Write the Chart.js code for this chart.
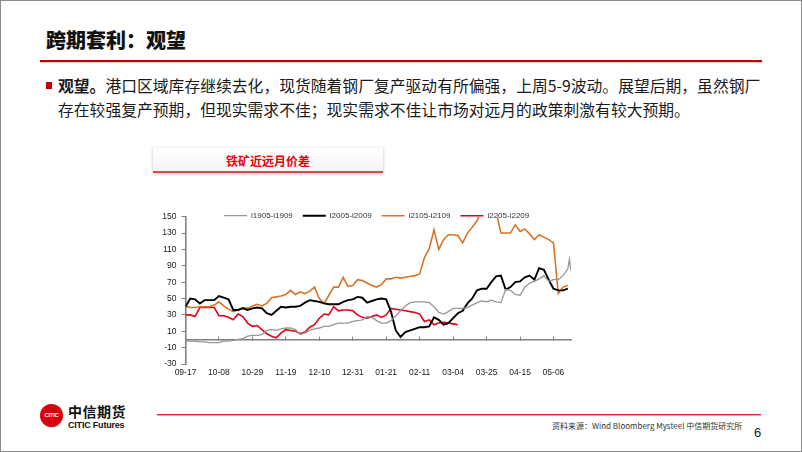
<!DOCTYPE html>
<html>
<head>
<meta charset="utf-8">
<script src="https://cdn.jsdelivr.net/npm/chart.js@4.4.1/dist/chart.umd.min.js"></script>
<style>
  html, body { margin: 0; padding: 0; background: #fff; }
  #slide { position: relative; width: 802px; height: 452px; overflow: hidden; font-family: 'Noto Sans CJK SC', sans-serif; color: #111; }
  #frame { position: absolute; left: 0; top: 0; right: 0; bottom: 0; border: 1px solid #8a8a8a; pointer-events: none; }
  .abs { position: absolute; white-space: nowrap; }
  #title { left: 46px; top: 26px; font-size: 20px; font-weight: 900; line-height: 28px; }
  #titleLine { left: 40px; top: 60px; width: 722px; height: 2px; background: #c00000; box-shadow: 0 1px 1px rgba(120,0,0,.25); }
  #bullet { left: 46px; top: 82px; width: 6px; height: 7px; background: #c00000; }
  #text { left: 58px; top: 74px; font-size: 15.8px; line-height: 24px; color: #1a1a1a; }
  #chartHead { left: 153px; top: 148px; width: 230px; height: 23px; background: linear-gradient(#ffffff, #f5f5f8); border-bottom: 2px solid #c9504c; box-shadow: 0 1px 3px rgba(0,0,0,.25); text-align: center; font-size: 12px; font-weight: bold; line-height: 25px; color: #e8000b; }
  #chartBox { left: 150px; top: 200px; width: 440px; height: 185px; }
  #logo { left: 40px; top: 404px; width: 23px; height: 23px; border-radius: 50%; background: #d7000f; color: #fff; font: bold 6px 'Liberation Sans Narrow', 'Liberation Sans', sans-serif; line-height: 23px; text-align: center; letter-spacing: -0.3px; }
  #cn { left: 68px; top: 402px; font-size: 14px; font-weight: bold; line-height: 18px; letter-spacing: 0.5px; }
  #en { left: 68px; top: 419px; font: bold 9px 'Liberation Sans', sans-serif; line-height: 12px; letter-spacing: -0.2px; }
  #footLine { left: 157px; top: 414px; width: 604px; height: 1px; background: #c8302c; border-bottom: 1px solid #d9b0b0; }
  #source { left: 552px; top: 420px; font-size: 8px; line-height: 12px; color: #333; }
  #page { left: 754px; top: 424px; font: 13px 'Liberation Sans', sans-serif; line-height: 18px; color: #222; }
</style>
</head>
<body>
<div id="slide">
  <div class="abs" id="title">跨期套利：观望</div>
  <div class="abs" id="titleLine"></div>
  <div class="abs" id="bullet"></div>
  <div class="abs" id="text"><b>观望。</b>港口区域库存继续去化，现货随着钢厂复产驱动有所偏强，上周5-9波动。展望后期，虽然钢厂<br>存在较强复产预期，但现实需求不佳；现实需求不佳让市场对远月的政策刺激有较大预期。</div>
  <div class="abs" id="chartHead">铁矿近远月价差</div>
  <div class="abs" id="chartBox"><canvas id="my-chart"></canvas></div>
  <div class="abs" id="logo">CITIC</div>
  <div class="abs" id="cn">中信期货</div>
  <div class="abs" id="en">CITIC Futures</div>
  <div class="abs" id="footLine"></div>
  <div class="abs" id="source">资料来源：Wind Bloomberg Mysteel 中信期货研究所</div>
  <div class="abs" id="page">6</div>
  <div id="frame"></div>
</div>
<script>
'use strict'
///data///

// days counted from 09-17, one point every 3 days
let days = [0,3,6,9,12,15,18,21,24,27,30,33,36,39,42,45,48,51,54,57,60,63,66,69,72,75,78,81,84,87,
  90,93,96,99,102,105,108,111,114,117,120,123,126,129,132,135,138,141,144,147,150,153,156,159,162,165,168,171,174,177,
  180,183,186,189,192,195,198,201,204,207,210,213,216,219,222,225,228,231,234,237,240,241,242]

let tickDays = [0,21,42,63,84,105,126,147,168,189,210,231]
let tickLabels = ['09-17','10-08','10-29','11-19','12-10','12-31','01-21','02-11','03-04','03-25','04-15','05-06']
let yTicks = [-30,-10,10,30,50,70,90,110,130,150]

let seriesNames = ['i1905-i1909','i2005-i2009','i2105-i2109','i2205-i2209']

let i1905 = [-2,-2,-2,-3,-3,-4,-4,-4,-2,-2,
  -1,0,1,4,5,5,6,11,12,11,
  13,14,14,12,6,8,11,13,14,16,
  16,18,20,20,20,22,23,24,28,27,
  23,20,20,23,29,35,41,45,46,46,
  46,45,40,33,31,34,38,38,38,39,
  42,45,47,46,48,46,45,61,60,55,
  54,64,69,71,74,78,71,73,73,78,
  86,98,84]

let i2005 = [40,50,49,44,48,48,48,53,51,49,
  36,36,38,36,38,39,38,32,30,35,
  40,39,40,40,41,45,48,47,46,44,
  43,43,43,46,48,49,52,51,45,47,
  49,50,49,34,11,3,9,11,13,15,
  15,16,27,24,18,20,26,32,35,44,
  50,60,62,62,70,77,78,61,64,70,
  71,76,78,73,87,85,73,62,60,60,
  62]

let i2105 = [41,39,39,40,40,40,42,46,41,37,
  34,36,39,38,41,43,41,44,51,52,
  53,55,60,55,58,56,59,64,50,44,
  54,64,64,76,65,66,73,72,69,66,
  64,67,74,74,76,75,76,77,78,80,
  100,111,134,110,122,128,128,127,118,130,
  137,145,158,160,162,156,130,130,130,140,
  132,135,129,122,128,125,122,118,56,64,
  66]

let i2205 = [30,30,28,39,39,39,39,29,29,27,
  24,31,28,20,16,17,12,7,4,2,
  8,12,11,10,7,9,15,18,26,31,
  30,40,35,36,36,35,30,27,26,28,
  30,27,30,38,37,36,35,34,33,31,
  22,24,18,20,21,20,19,18]

let lineColors = ['#969696','#000000','#d87428','#e3001b']
let lineWidths = [1.3,1.9,1.6,1.6]

Chart.defaults.font.family = "'Liberation Sans', sans-serif"
Chart.defaults.font.size = 8.5
Chart.defaults.color = '#1a1a1a'

///legend sits inside the plot, on the 150 line///
let legendInPlot = {
  id: 'legendInPlot',
  afterLayout(chart) {
    let lg = chart.legend
    let a = chart.chartArea
    lg.left = a.left + 28.5
    lg.right = a.right
    lg.top = a.top - 15
    lg.bottom = lg.top + 22
  }
}

let allSeries = [i1905, i2005, i2105, i2205]
let datasets = []
for (let i = 0; i < allSeries.length; i++) {
  datasets.push({
    label: seriesNames[i],
    data: allSeries[i],
    borderColor: lineColors[i],
    backgroundColor: lineColors[i],
    borderWidth: lineWidths[i],
    pointRadius: 0,
    tension: 0
  })
}

let ctx = document.getElementById('my-chart').getContext('2d')
let myChart = new Chart(ctx, {
  type: 'line',
  data: { labels: days, datasets: datasets },
  plugins: [legendInPlot],
  options: {
    responsive: true,
    maintainAspectRatio: false,
    animation: false,
    layout: { padding: { left: 0, top: 15.7, right: 19, bottom: 0 } },
    plugins: {
      tooltip: { enabled: false },
      legend: {
        position: 'top',
        align: 'start',
        maxHeight: 1,
        labels: { boxWidth: 23, boxHeight: 0, padding: 10, color: '#333', font: { size: 8 } }
      }
    },
    scales: {
      x: {
        type: 'linear',
        min: 0,
        max: 242,
        afterBuildTicks: s => { s.ticks = tickDays.map(v => ({ value: v })) },
        afterFit: s => { s.height = 21 },
        ticks: { autoSkip: false, maxRotation: 0, padding: 4, callback: (v, i) => tickLabels[i] },
        grid: { display: false, drawTicks: false },
        border: { display: false }
      },
      // axis line at zero with its small tick marks
      x2: {
        type: 'linear',
        position: { y: 0 },
        min: 0,
        max: 242,
        afterBuildTicks: s => { s.ticks = tickDays.map(v => ({ value: v })) },
        ticks: { display: false },
        grid: { drawOnChartArea: false, drawTicks: true, tickLength: -4, tickColor: '#808080', lineWidth: 1 },
        border: { display: true, color: '#808080', width: 1.6 }
      },
      y: {
        min: -30,
        max: 150,
        afterBuildTicks: s => { s.ticks = yTicks.map(v => ({ value: v })) },
        afterFit: s => { s.width = 35.5 },
        ticks: { padding: 5 },
        grid: {
          drawOnChartArea: false,
          tickColor: '#808080',
          tickLength: 4
        },
        border: { display: true, color: '#808080', width: 1.6 }
      }
    }
  }
})
</script>
</body>
</html>
